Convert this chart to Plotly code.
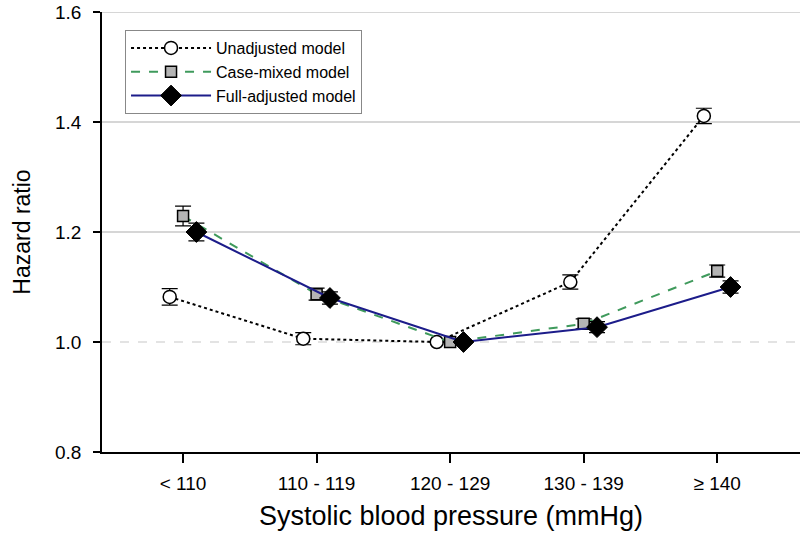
import plotly.graph_objects as go

categories = ["< 110", "110 - 119", "120 - 129", "130 - 139", "≥ 140"]

unadjusted = [1.082, 1.006, 1.000, 1.109, 1.411]
unadjusted_err = [0.015, 0.011, 0.0, 0.013, 0.014]

case_mixed = [1.229, 1.087, 1.000, 1.033, 1.129]
case_mixed_err = [0.018, 0.011, 0.0, 0.009, 0.011]

full_adjusted = [1.200, 1.080, 1.000, 1.027, 1.100]
full_adjusted_err = [0.016, 0.011, 0.0, 0.010, 0.011]

idx = list(range(len(categories)))
font = "Liberation Sans, Arial, sans-serif"

fig = go.Figure()

err_style = dict(type="data", visible=True, color="black", thickness=1.2, width=8)

fig.add_trace(go.Scatter(
    x=[i - 0.1 for i in idx], y=unadjusted, name="Unadjusted model",
    mode="lines+markers",
    line=dict(color="black", width=2, dash="dot"),
    marker=dict(symbol="circle", size=13, color="white", line=dict(color="black", width=1.5)),
    error_y=dict(array=unadjusted_err, **err_style),
))
fig.add_trace(go.Scatter(
    x=idx, y=case_mixed, name="Case-mixed model",
    mode="lines+markers",
    line=dict(color="#3f9a5c", width=2, dash="dash"),
    marker=dict(symbol="square", size=11, color="#b4b4b4", line=dict(color="black", width=1.5)),
    error_y=dict(array=case_mixed_err, **err_style),
))
fig.add_trace(go.Scatter(
    x=[i + 0.1 for i in idx], y=full_adjusted, name="Full-adjusted model",
    mode="lines+markers",
    line=dict(color="#1c1c8a", width=2),
    marker=dict(symbol="diamond", size=16, color="black", line=dict(color="black", width=1)),
    error_y=dict(array=full_adjusted_err, **err_style),
))

# reference gridlines
for yv in [1.2, 1.4, 1.6]:
    fig.add_shape(type="line", xref="paper", yref="y", x0=0, x1=1, y0=yv, y1=yv,
                  line=dict(color="#c8c8c8", width=1.5), layer="below")
fig.add_shape(type="line", xref="paper", yref="y", x0=0, x1=1, y0=1.0, y1=1.0,
              line=dict(color="#c8c8c8", width=1.2, dash="dash"), layer="below")

fig.update_layout(
    width=801, height=538,
    margin=dict(l=102, r=1, t=12, b=86),
    paper_bgcolor="white", plot_bgcolor="white",
    font=dict(family=font, size=18, color="black"),
    showlegend=True,
    legend=dict(
        x=0.033, y=0.959, xanchor="left", yanchor="top",
        bordercolor="#888888", borderwidth=1, bgcolor="white",
        font=dict(family=font, size=16), tracegroupgap=0,
        itemwidth=80, entrywidth=180, entrywidthmode="pixels",
    ),
    xaxis=dict(
        range=[-0.607, 4.62], tickmode="array", tickvals=idx, ticktext=categories,
        showgrid=False, zeroline=False, showline=True, linecolor="black", linewidth=1.5,
        ticks="outside", ticklen=9, tickcolor="black", tickwidth=1.5,
        tickfont=dict(size=19), ticklabelstandoff=4,
        title=dict(text="Systolic blood pressure (mmHg)", font=dict(size=27), standoff=14),
    ),
    yaxis=dict(
        range=[0.8, 1.6], tickvals=[0.8, 1.0, 1.2, 1.4, 1.6],
        ticktext=["0.8", "1.0", "1.2", "1.4", "1.6"],
        showgrid=False, zeroline=False, showline=True, linecolor="black", linewidth=1.5,
        ticks="outside", ticklen=7, tickcolor="black", tickwidth=1.5,
        tickfont=dict(size=19), ticklabelstandoff=8,
        title=dict(text="Hazard ratio", font=dict(size=23), standoff=18),
    ),
)

fig.write_html("out.html")
